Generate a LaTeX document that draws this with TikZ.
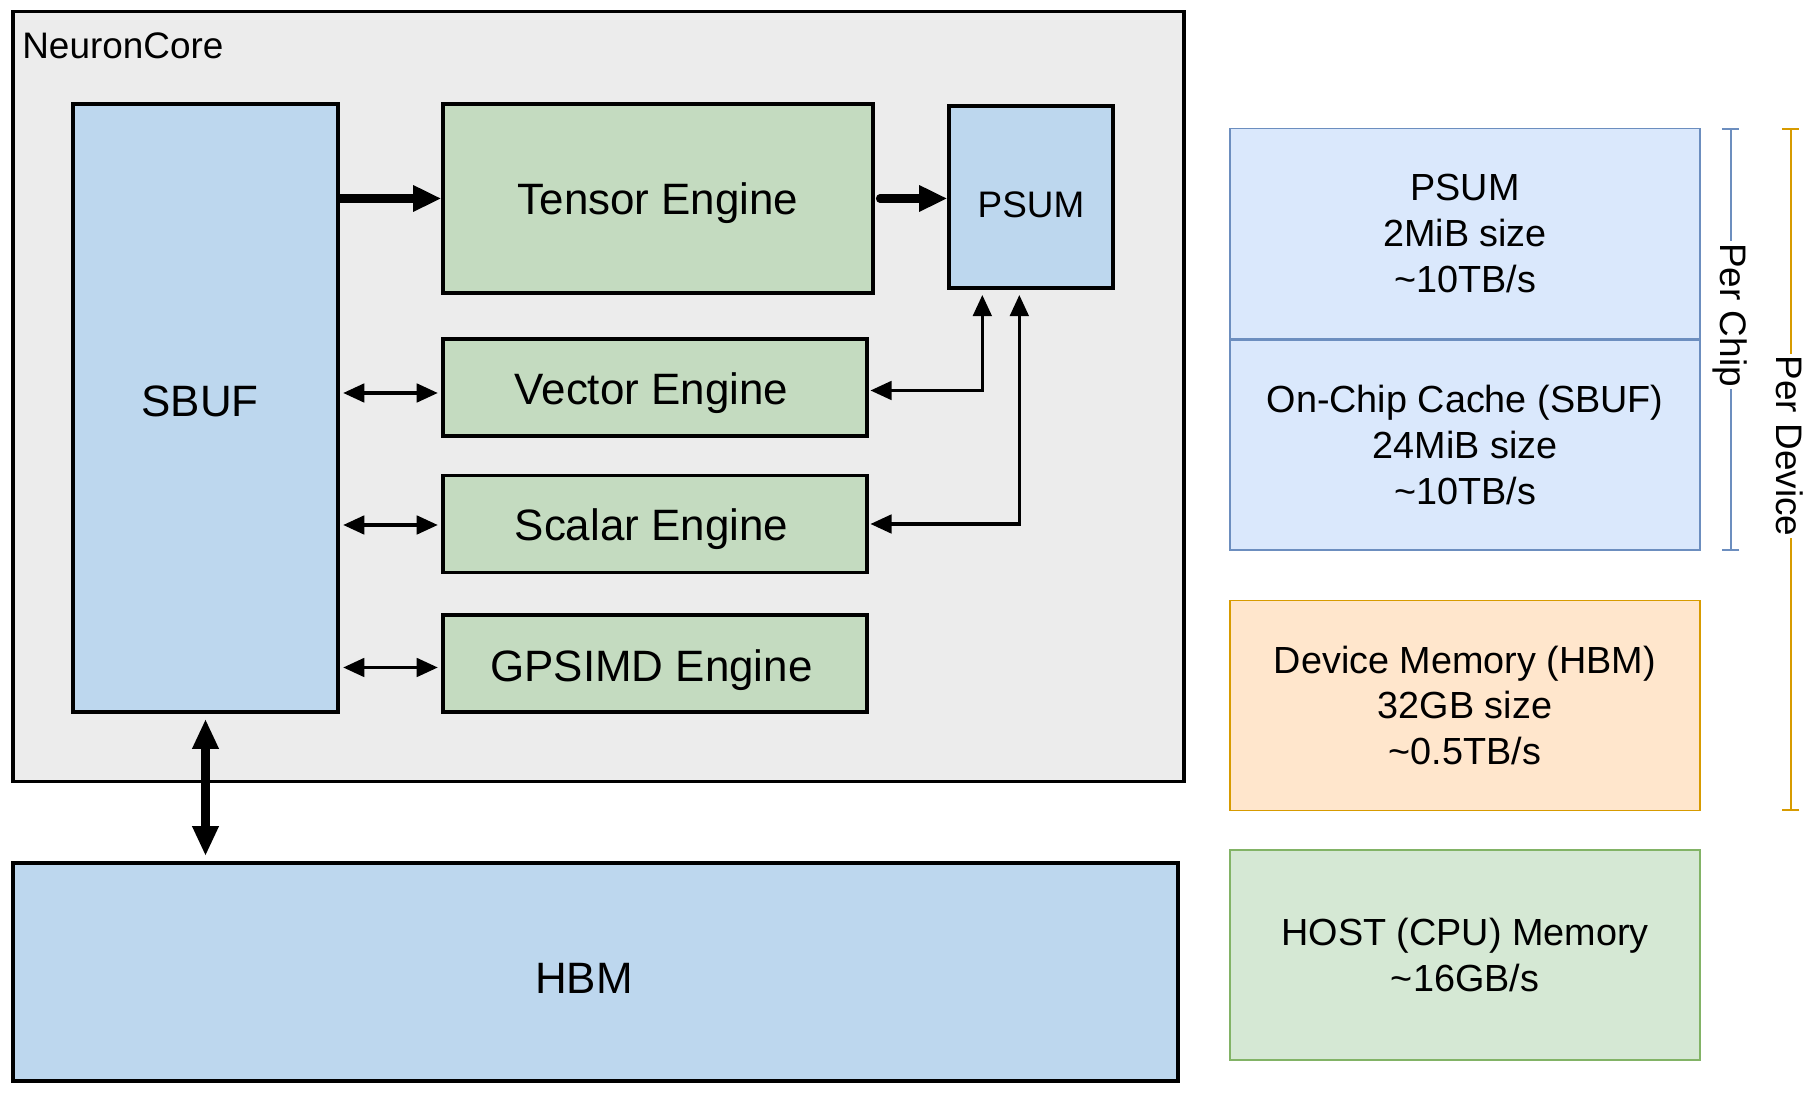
\documentclass[tikz,border=0pt]{standalone}
\usepackage{fontspec}
\setmainfont{Liberation Sans}
\usetikzlibrary{arrows.meta}

\definecolor{coregray}{RGB}{236,236,236}
\definecolor{memblue}{RGB}{189,215,238}
\definecolor{enggreen}{RGB}{196,219,192}
\definecolor{lightblue}{HTML}{DAE8FC}
\definecolor{blueline}{HTML}{6C8EBF}
\definecolor{lightorange}{HTML}{FFE6CC}
\definecolor{orangeline}{HTML}{D79B00}
\definecolor{lightgreen}{HTML}{D5E8D4}
\definecolor{greenline}{HTML}{82B366}

\begin{document}
\begin{tikzpicture}[
    box/.style={draw=black,line width=1.9pt,inner sep=0pt,text depth=0pt},
    mem/.style={box,fill=memblue},
    engine/.style={box,fill=enggreen,minimum width=8.48cm,minimum height=1.94cm,text height=19.2pt,font=\fontsize{25}{30}\selectfont},
    spec/.style={draw,line width=0.6pt,minimum width=9.4cm,minimum height=4.2cm,align=center,font=\fontsize{21.5}{26}\selectfont},
    bigarrow/.style={line width=4.6pt,-{Triangle[length=16pt,width=14pt]}},
    bigboth/.style={line width=5pt,{Triangle[length=17pt,width=14pt]}-{Triangle[length=17pt,width=14pt]}},
    smallarrow/.style={line width=1.9pt,{Triangle[length=12pt,width=10.5pt]}-{Triangle[length=12pt,width=10.5pt]}},
    bracket/.style={line width=1.1pt,{Bar[width=10pt]}-{Bar[width=10pt]}},
    sidelabel/.style={fill=white,inner sep=1pt,rotate=-90,font=\fontsize{21}{25}\selectfont}
  ]
    \useasboundingbox (0,0) rectangle (36.26,22.06);

    % NeuronCore
    \node[box,fill=coregray,minimum width=23.42cm,minimum height=15.4cm] (core) at (11.97,14.13) {};
    \node[anchor=west,inner sep=0pt,font=\fontsize{21}{25}\selectfont] (corelabel) at (0.44,21.14) {NeuronCore};

    \node[mem,minimum width=5.3cm,minimum height=12.16cm,text height=10pt,font=\fontsize{25}{30}\selectfont] (sbuf) at (4.11,13.90) {\hspace*{-6pt}SBUF};
    \node[engine,minimum width=8.6cm,minimum height=3.78cm,text height=18.5pt] (tensor) at (13.16,18.09) {Tensor Engine};
    \node[mem,minimum width=3.28cm,minimum height=3.64cm,text height=23.6pt,font=\fontsize{21}{25}\selectfont] (psum) at (20.62,18.12) {PSUM};
    \node[engine] (vector) at (13.10,14.31) {\hspace*{-4pt}Vector Engine};
    \node[engine] (scalar) at (13.10,11.58) {\hspace*{-4pt}Scalar Engine};
    \node[engine,text height=20.5pt] (gpsimd) at (13.10,8.79) {\hspace*{-4pt}GPSIMD Engine};

    \node[mem,minimum width=23.3cm,minimum height=4.36cm,text height=25pt,font=\fontsize{25}{30}\selectfont] (hbm) at (11.91,2.62) {\hspace*{-13pt}HBM};

    % data paths
    \draw[bigarrow] (sbuf.east |- tensor.west) -- (tensor.west);
    \draw[bigarrow,line cap=round,shorten <=3pt] (tensor.east) -- (psum.west |- tensor.east);
    \draw[bigboth,shorten <=3pt,shorten >=3pt] (sbuf.south) -- (hbm.north -| sbuf.south);
    \foreach \e/\dy in {vector/-0.11,scalar/-0.02,gpsimd/-0.08}
      \draw[smallarrow,shorten <=2pt,shorten >=2pt] ([yshift=\dy cm]sbuf.east |- \e.west) -- ([yshift=\dy cm]\e.west);
    \draw[smallarrow,shorten <=1pt,shorten >=3pt] ([yshift=-0.06cm]vector.east) -| ([xshift=0.7cm]psum.south west);
    \draw[smallarrow,shorten <=1pt,shorten >=3pt] (scalar.east) -| ([xshift=1.44cm]psum.south west);

    % memory table
    \node[spec,fill=lightblue,draw=blueline] (psumspec) at (29.3,17.39) {PSUM\\2MiB size\\\textasciitilde10TB/s};
    \node[spec,fill=lightblue,draw=blueline] (sbufspec) at (29.3,13.16) {On-Chip Cache (SBUF)\\24MiB size\\\textasciitilde10TB/s};
    \node[spec,fill=lightorange,draw=orangeline] (hbmspec) at (29.3,7.95) {Device Memory (HBM)\\32GB size\\\textasciitilde0.5TB/s};
    \node[spec,fill=lightgreen,draw=greenline] (hostspec) at (29.3,2.96) {HOST (CPU) Memory\\\textasciitilde16GB/s};

    \coordinate (chiptop) at ([xshift=0.6cm]psumspec.north east);
    \coordinate (chipbot) at ([xshift=0.6cm]sbufspec.south east);
    \coordinate (devtop) at ([xshift=1.8cm]psumspec.north east);
    \coordinate (devbot) at ([xshift=1.8cm]hbmspec.south east);

    \draw[bracket,blueline] (chiptop) -- (chipbot);
    \node[sidelabel] (chiplabel) at (34.6,15.76) {Per Chip};
    \draw[bracket,orangeline] (devtop) -- (devbot);
    \node[sidelabel] (devlabel) at (35.8,13.14) {Per Device};
\end{tikzpicture}
\end{document}
